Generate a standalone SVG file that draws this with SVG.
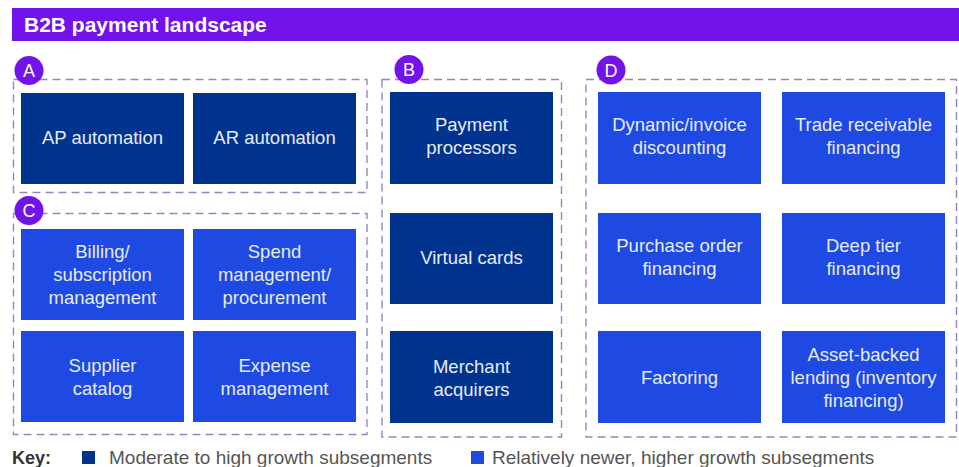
<svg xmlns="http://www.w3.org/2000/svg" width="959" height="467" viewBox="0 0 959 467">
  <style>
    .title { font-family: "Liberation Sans", Arial, sans-serif; font-weight: bold; font-size: 21px; fill: #ffffff; }
    .group { fill: none; stroke: #9585c6; stroke-width: 1.4; stroke-dasharray: 8 5; }
    .badge { fill: #7213ea; }
    .badge-t { font-family: "Liberation Sans", Arial, sans-serif; font-size: 18px; fill: #ffffff; text-anchor: middle; }
    .dark { fill: #00338d; }
    .bright { fill: #1e49e2; }
    .lbl { font-family: "Liberation Sans", Arial, sans-serif; font-size: 18.5px; fill: #e6ecfa; text-anchor: middle; }
    .key { font-family: "Liberation Sans", Arial, sans-serif; font-size: 19px; fill: #555555; }
    .key-b { font-family: "Liberation Sans", Arial, sans-serif; font-size: 18px; font-weight: bold; fill: #333333; }
  </style>

  <rect x="0" y="0" width="959" height="467" fill="#ffffff"/>

  <!-- title bar -->
  <rect x="12" y="8" width="947" height="33" fill="#7213ea"/>
  <text class="title" x="24" y="32">B2B payment landscape</text>

  <!-- dashed group frames -->
  <g id="groups">
    <rect class="group" x="13.5" y="79.5" width="353.5" height="113"/>
    <rect class="group" x="13.5" y="213.5" width="353.5" height="221"/>
    <rect class="group" x="382" y="79.5" width="179.5" height="357.5"/>
    <rect class="group" x="586" y="79.5" width="370.5" height="357.5"/>
  </g>

  <!-- group badges -->
  <g id="badge-a"><circle class="badge" cx="29" cy="70.5" r="14.5"/><text class="badge-t" x="29" y="77">A</text></g>
  <g id="badge-b"><circle class="badge" cx="409" cy="69.5" r="14.5"/><text class="badge-t" x="409" y="76">B</text></g>
  <g id="badge-c"><circle class="badge" cx="29" cy="210.5" r="14.5"/><text class="badge-t" x="29" y="217">C</text></g>
  <g id="badge-d"><circle class="badge" cx="611" cy="70" r="14.5"/><text class="badge-t" x="611" y="76.5">D</text></g>

  <!-- group A -->
  <g id="ap-automation"><rect class="dark" x="21" y="93" width="163" height="91"/><text class="lbl" x="102.5" y="144">AP automation</text></g>
  <g id="ar-automation"><rect class="dark" x="193" y="93" width="163" height="91"/><text class="lbl" x="274.5" y="144">AR automation</text></g>

  <!-- group C -->
  <g id="billing"><rect class="bright" x="21" y="229" width="163" height="91"/>
    <text class="lbl" x="102.5" y="258">Billing/</text>
    <text class="lbl" x="102.5" y="281">subscription</text>
    <text class="lbl" x="102.5" y="304">management</text></g>
  <g id="spend"><rect class="bright" x="193" y="229" width="163" height="91"/>
    <text class="lbl" x="274.5" y="258">Spend</text>
    <text class="lbl" x="274.5" y="281">management/</text>
    <text class="lbl" x="274.5" y="304">procurement</text></g>
  <g id="supplier-catalog"><rect class="bright" x="21" y="331" width="163" height="91"/>
    <text class="lbl" x="102.5" y="372">Supplier</text>
    <text class="lbl" x="102.5" y="395">catalog</text></g>
  <g id="expense"><rect class="bright" x="193" y="331" width="163" height="91"/>
    <text class="lbl" x="274.5" y="372">Expense</text>
    <text class="lbl" x="274.5" y="395">management</text></g>

  <!-- group B -->
  <g id="payment-processors"><rect class="dark" x="390" y="92" width="163" height="92"/>
    <text class="lbl" x="471.5" y="131">Payment</text>
    <text class="lbl" x="471.5" y="154">processors</text></g>
  <g id="virtual-cards"><rect class="dark" x="390" y="213" width="163" height="91"/>
    <text class="lbl" x="471.5" y="264">Virtual cards</text></g>
  <g id="merchant-acquirers"><rect class="dark" x="390" y="331" width="163" height="92"/>
    <text class="lbl" x="471.5" y="373">Merchant</text>
    <text class="lbl" x="471.5" y="396">acquirers</text></g>

  <!-- group D -->
  <g id="dynamic-discounting"><rect class="bright" x="598" y="92" width="163" height="92"/>
    <text class="lbl" x="679.5" y="131">Dynamic/invoice</text>
    <text class="lbl" x="679.5" y="154">discounting</text></g>
  <g id="trade-receivable"><rect class="bright" x="782" y="92" width="163" height="92"/>
    <text class="lbl" x="863.5" y="131">Trade receivable</text>
    <text class="lbl" x="863.5" y="154">financing</text></g>
  <g id="purchase-order"><rect class="bright" x="598" y="213" width="163" height="91"/>
    <text class="lbl" x="679.5" y="252">Purchase order</text>
    <text class="lbl" x="679.5" y="275">financing</text></g>
  <g id="deep-tier"><rect class="bright" x="782" y="213" width="163" height="91"/>
    <text class="lbl" x="863.5" y="252">Deep tier</text>
    <text class="lbl" x="863.5" y="275">financing</text></g>
  <g id="factoring"><rect class="bright" x="598" y="331" width="163" height="92"/>
    <text class="lbl" x="679.5" y="384">Factoring</text></g>
  <g id="asset-backed"><rect class="bright" x="782" y="331" width="163" height="92"/>
    <text class="lbl" x="863.5" y="361">Asset-backed</text>
    <text class="lbl" x="863.5" y="384">lending (inventory</text>
    <text class="lbl" x="863.5" y="407">financing)</text></g>

  <!-- legend -->
  <g id="key">
    <text class="key-b" x="12" y="464">Key:</text>
    <rect class="dark" x="82" y="451" width="13" height="13"/>
    <text class="key" x="109" y="464">Moderate to high growth subsegments</text>
    <rect class="bright" x="471" y="451" width="13" height="13"/>
    <text class="key" x="492" y="464">Relatively newer, higher growth subsegments</text>
  </g>

  <g id="connectors"/>
</svg>
